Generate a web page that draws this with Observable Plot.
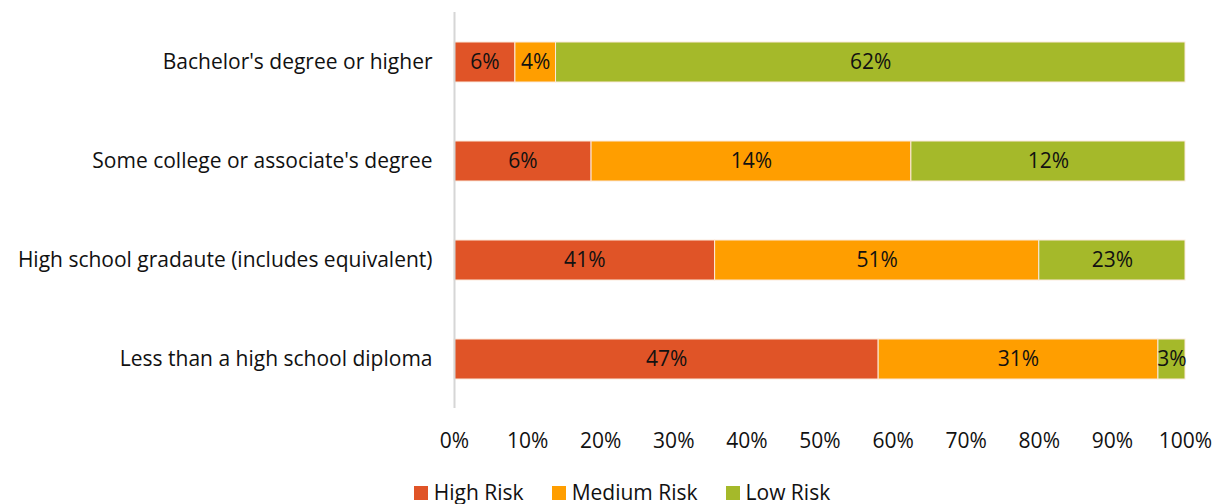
<!DOCTYPE html>
<html>
<head>
<meta charset="utf-8">
<script src="https://cdn.jsdelivr.net/npm/d3@7"></script>
<script src="https://cdn.jsdelivr.net/npm/@observablehq/plot@0.6"></script>
<style>
  body { margin: 0; background: #fff; font-family: "Open Sans", sans-serif; }
  #chart { width: 1220px; }
  .legend { display: flex; justify-content: center; gap: 28px; font-size: 21px; color: #111; padding-left: 24px; line-height: 24px; }
  .legend span { display: inline-flex; align-items: center; }
  .legend i { display: inline-block; width: 14px; height: 14px; margin-right: 6px; position: relative; top: 1px; }
</style>
</head>
<body>
<div id="chart"></div>
<script>
// Education levels (top to bottom) and risk shares per level
const levels = [
  "Bachelor's degree or higher",
  "Some college or associate's degree",
  "High school gradaute (includes equivalent)",
  "Less than a high school diploma"
];
const risks = ["High Risk", "Medium Risk", "Low Risk"];
const colors = ["#E05427", "#FF9E00", "#A5B92A"];
const highRisk = [6, 6, 41, 47];
const mediumRisk = [4, 14, 51, 31];
const lowRisk = [62, 12, 23, 3];
const xTicks = [0, 0.1, 0.2, 0.3, 0.4, 0.5, 0.6, 0.7, 0.8, 0.9, 1];

const series = [highRisk, mediumRisk, lowRisk];
const rows = levels.flatMap((level, i) =>
  risks.map((risk, j) => ({ level, risk, value: series[j][i] }))
);

// Each bar is normalized to its own total
const stack = { x: "value", y: "level", z: "risk", order: risks, offset: "normalize" };

const plot = Plot.plot({
  width: 1220,
  height: 480,
  marginTop: 12,
  marginBottom: 72,
  marginLeft: 454,
  marginRight: 35,
  style: { fontFamily: "Open Sans, sans-serif", fontSize: "21px", color: "#111" },
  x: { domain: [0, 1], ticks: xTicks, tickFormat: d => Math.round(d * 100) + "%", tickSize: 0, tickPadding: 25, label: null },
  y: { domain: levels, paddingInner: 0.6, paddingOuter: 0.3, tickSize: 0, tickPadding: 22, label: null },
  color: { domain: risks, range: colors },
  marks: [
    Plot.barX(rows, Plot.stackX({ ...stack, fill: "risk", stroke: "#fbe9dc", strokeWidth: 1 })),
    Plot.text(rows, Plot.stackX({ ...stack, text: d => d.value + "%", fill: "#111", fontSize: 21 })),
    Plot.ruleX([0], { stroke: "#d6d6d6", strokeWidth: 2 })
  ]
});
document.getElementById("chart").appendChild(plot);

const legend = document.createElement("div");
legend.className = "legend";
risks.forEach((r, i) => {
  const s = document.createElement("span");
  s.innerHTML = `<i style="background:${colors[i]}"></i>${r}`;
  legend.appendChild(s);
});
document.getElementById("chart").appendChild(legend);
</script>
</body>
</html>
